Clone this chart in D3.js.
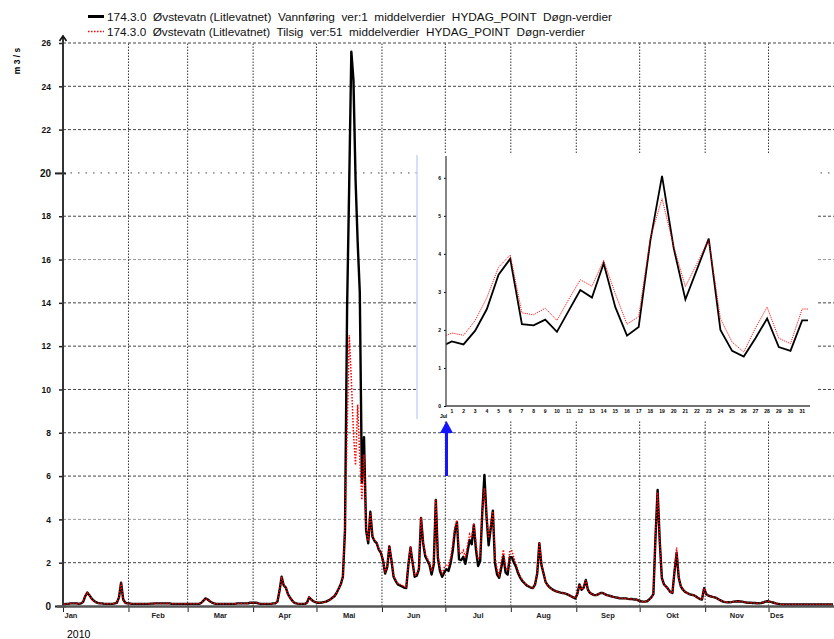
<!DOCTYPE html>
<html>
<head>
<meta charset="utf-8">
<script src="https://d3js.org/d3.v7.min.js"></script>
<style>
body { margin: 0; background: #fff; }
svg { display: block; font-family: "Liberation Sans", Arial, sans-serif; }
</style>
</head>
<body>
<svg></svg>
<script>
// daily values 2010, m3/s
const months = ['Jan', 'Feb', 'Mar', 'Apr', 'Mai', 'Jun', 'Jul', 'Aug', 'Sep', 'Okt', 'Nov', 'Des']

const vannforing = [
  // Jan
  0.08,0.1,0.1,0.12,0.12,0.12,0.12,0.1,0.12,0.18,0.45,0.62,0.5,0.35,0.25,0.18,0.14,0.12,0.12,0.1,0.1,0.1,0.1,0.1,0.12,0.15,0.4,1.08,0.3,0.15,0.12,
  // Feb
  0.12,0.1,0.1,0.1,0.1,0.1,0.1,0.1,0.1,0.1,0.11,0.11,0.12,0.12,0.12,0.12,0.12,0.12,0.12,0.12,0.1,0.1,0.1,0.1,0.1,0.1,0.1,0.1,
  // Mar
  0.1,0.1,0.1,0.1,0.1,0.1,0.15,0.25,0.35,0.3,0.22,0.16,0.12,0.1,0.1,0.1,0.1,0.1,0.1,0.1,0.1,0.1,0.1,0.12,0.12,0.12,0.12,0.12,0.12,0.15,0.15,
  // Apr
  0.15,0.15,0.12,0.1,0.1,0.1,0.1,0.1,0.1,0.12,0.12,0.2,0.7,1.35,0.95,0.85,0.55,0.38,0.25,0.15,0.12,0.1,0.1,0.1,0.1,0.15,0.4,0.3,0.22,0.18,
  // Mai
  0.15,0.15,0.16,0.18,0.2,0.25,0.3,0.38,0.45,0.6,0.8,1.0,1.35,3.5,13.8,19.5,25.6,24.3,19.7,16.8,14.5,5.7,7.8,3.5,2.9,4.35,3.2,3.0,2.9,2.6,2.45,
  // Jun
  2.1,1.5,1.8,2.75,2.1,1.35,1.15,1.0,0.95,0.9,0.85,0.83,1.9,2.7,2.0,1.35,1.4,1.7,4.07,2.9,2.3,2.1,1.9,1.45,1.9,4.9,2.2,1.6,1.35,1.55,
  // Jul
  1.7,1.62,1.98,2.55,3.45,3.87,2.15,2.12,2.27,1.95,2.5,3.05,2.85,3.75,2.6,1.85,2.08,4.35,6.05,4.15,2.8,3.6,4.4,2.0,1.45,1.3,1.78,2.3,1.55,1.45,2.25,
  // Aug
  2.25,2.0,1.8,1.5,1.3,1.15,1.05,0.95,0.9,0.85,0.83,1.0,1.5,2.9,1.9,1.5,1.1,0.95,0.85,0.78,0.72,0.68,0.65,0.62,0.6,0.58,0.55,0.5,0.45,0.4,0.35,
  // Sep
  0.55,1.0,0.75,0.85,1.2,0.75,0.6,0.55,0.5,0.5,0.55,0.6,0.6,0.55,0.5,0.48,0.45,0.42,0.4,0.38,0.36,0.35,0.35,0.35,0.33,0.32,0.32,0.3,0.3,0.25,
  // Okt
  0.22,0.2,0.2,0.22,0.3,0.4,0.55,3.2,5.36,3.0,1.3,1.0,0.9,0.78,0.65,0.6,1.6,2.45,1.3,0.9,0.75,0.65,0.6,0.55,0.52,0.5,0.45,0.38,0.32,0.3,0.82,
  // Nov
  0.55,0.48,0.45,0.42,0.4,0.36,0.3,0.25,0.2,0.18,0.17,0.17,0.18,0.2,0.21,0.22,0.21,0.2,0.18,0.16,0.15,0.15,0.14,0.14,0.13,0.13,0.14,0.16,0.2,0.22,
  // Des
  0.2,0.18,0.15,0.12,0.1,0.08,0.07,0.07,0.07,0.07,0.07,0.07,0.07,0.07,0.07,0.07,0.07,0.07,0.07,0.07,0.07,0.07,0.07,0.07,0.07,0.07,0.07,0.07,0.07,0.07,0.07
]

const tilsig = [
  // Jan
  0.08,0.1,0.1,0.12,0.12,0.12,0.12,0.1,0.12,0.18,0.45,0.62,0.5,0.35,0.25,0.18,0.14,0.12,0.12,0.1,0.1,0.1,0.1,0.1,0.12,0.15,0.4,1.08,0.3,0.15,0.12,
  // Feb
  0.12,0.1,0.1,0.1,0.1,0.1,0.1,0.1,0.1,0.1,0.11,0.11,0.12,0.12,0.12,0.12,0.12,0.12,0.12,0.12,0.1,0.1,0.1,0.1,0.1,0.1,0.1,0.1,
  // Mar
  0.1,0.1,0.1,0.1,0.1,0.1,0.15,0.25,0.35,0.3,0.22,0.16,0.12,0.1,0.1,0.1,0.1,0.1,0.1,0.1,0.1,0.1,0.1,0.12,0.12,0.12,0.12,0.12,0.12,0.15,0.15,
  // Apr
  0.15,0.15,0.12,0.1,0.1,0.1,0.1,0.1,0.1,0.12,0.12,0.2,0.7,1.35,0.95,0.85,0.55,0.38,0.25,0.15,0.12,0.1,0.1,0.1,0.1,0.15,0.4,0.3,0.22,0.18,
  // Mai
  0.15,0.15,0.16,0.18,0.2,0.25,0.3,0.38,0.45,0.6,0.8,1.0,1.35,3.8,8.0,12.5,10.5,8.0,6.5,9.3,6.8,4.9,7.0,3.6,3.0,4.3,3.25,3.05,2.95,2.65,2.5,
  // Jun
  2.15,1.55,1.85,2.8,2.15,1.4,1.2,1.05,1.0,0.95,0.9,0.88,1.95,2.75,2.05,1.4,1.45,1.8,4.1,3.0,2.4,2.2,2.0,1.6,2.0,4.9,2.35,1.75,1.5,1.78,
  // Jul
  1.92,1.86,2.25,2.85,3.65,3.97,2.45,2.4,2.57,2.25,2.8,3.32,3.15,3.83,2.95,2.15,2.35,4.42,5.45,4.2,3.14,3.75,4.37,2.3,1.68,1.42,2.05,2.6,1.78,1.64,2.55,
  // Aug
  2.55,2.2,1.95,1.6,1.35,1.2,1.08,0.97,0.92,0.86,0.84,1.02,1.55,2.95,1.95,1.5,1.1,0.95,0.85,0.78,0.72,0.68,0.65,0.62,0.6,0.58,0.55,0.5,0.45,0.4,0.35,
  // Sep
  0.55,1.0,0.75,0.85,1.2,0.75,0.6,0.55,0.5,0.5,0.55,0.6,0.6,0.55,0.5,0.48,0.45,0.42,0.4,0.38,0.36,0.35,0.35,0.35,0.33,0.32,0.32,0.3,0.3,0.25,
  // Okt
  0.22,0.2,0.2,0.22,0.3,0.4,0.55,3.2,5.25,3.0,1.3,1.0,0.9,0.78,0.65,0.6,1.65,2.7,1.3,0.9,0.75,0.65,0.6,0.55,0.52,0.5,0.45,0.38,0.32,0.3,0.82,
  // Nov
  0.55,0.48,0.45,0.42,0.4,0.36,0.3,0.25,0.2,0.18,0.17,0.17,0.18,0.2,0.21,0.22,0.21,0.2,0.18,0.16,0.15,0.15,0.14,0.14,0.13,0.13,0.14,0.16,0.2,0.22,
  // Des
  0.2,0.18,0.15,0.12,0.1,0.08,0.07,0.07,0.07,0.07,0.07,0.07,0.07,0.07,0.07,0.07,0.07,0.07,0.07,0.07,0.07,0.07,0.07,0.07,0.07,0.07,0.07,0.07,0.07,0.07,0.07
]

const yTicks = [0, 2, 4, 6, 8, 10, 12, 14, 16, 18, 20, 22, 24, 26]
const majorTicks = [0, 20]
const insetTicks = [0, 1, 2, 3, 4, 5, 6]
const insetDays = d3.range(1, 32)
const legendTexts = [
  '174.3.0  Øvstevatn (Litlevatnet)  Vannføring  ver:1  middelverdier  HYDAG_POINT  Døgn-verdier',
  '174.3.0  Øvstevatn (Litlevatnet)  Tilsig  ver:51  middelverdier  HYDAG_POINT  Døgn-verdier'
]

const svg = d3.select('svg').attr('width', 834).attr('height', 639)

const t0 = new Date(Date.UTC(2010, 0, 1))
const t1 = new Date(Date.UTC(2011, 0, 1))
const dayDate = i => new Date(t0.getTime() + (i + 0.5) * 864e5)

const x = d3.scaleUtc().domain([t0, t1]).range([63, 834])
const y = d3.scaleLinear().domain([0, 26]).range([606, 43])
const monthStarts = d3.utcMonths(t0, t1)

// grid
const grid = svg.append('g')
grid.selectAll('line.h').data(yTicks.filter(d => d > 0)).enter().append('line')
  .attr('x1', 63).attr('x2', 834)
  .attr('y1', d => y(d)).attr('y2', d => y(d))
  .attr('stroke', d => (d === 4 || d === 16) ? '#999' : '#444')
  .attr('stroke-width', 1)
  .attr('stroke-dasharray', d => d === 20 ? '1.5,6' : '3,2')
grid.selectAll('line.v').data(monthStarts.slice(1)).enter().append('line')
  .attr('x1', d => x(d)).attr('x2', d => x(d))
  .attr('y1', y(0)).attr('y2', y(26))
  .attr('stroke', '#333')
  .attr('stroke-dasharray', '1.5,1.5')

// series
const line = d3.line().x((d, i) => x(dayDate(i))).y(d => y(d))
svg.append('path').datum(vannforing).attr('d', line)
  .attr('fill', 'none').attr('stroke', '#000').attr('stroke-width', 2.4)
  .attr('stroke-linejoin', 'round')
svg.append('path').datum(tilsig).attr('d', line)
  .attr('fill', 'none').attr('stroke', '#ff0000').attr('stroke-width', 1.5)
  .attr('stroke-dasharray', '1.5,1.5')

// y axis
const yAxis = d3.axisLeft(y).tickValues(yTicks).tickSize(4).tickPadding(8)
const gy = svg.append('g').attr('transform', 'translate(63,0)').call(yAxis)
gy.select('.domain').remove()
gy.selectAll('.tick line')
  .attr('stroke', '#222')
  .attr('stroke-width', d => majorTicks.includes(d) ? 2 : 1.5)
  .attr('x1', d => majorTicks.includes(d) ? 3 : 0)
  .attr('x2', d => majorTicks.includes(d) ? -8 : -4)
gy.selectAll('.tick text')
  .attr('x', -12)
  .style('font-size', d => majorTicks.includes(d) ? '10px' : '8.5px')
  .style('font-weight', 'bold')
  .attr('fill', '#111')
svg.append('line').attr('x1', 63).attr('x2', 63).attr('y1', y(0)).attr('y2', 37)
  .attr('stroke', '#333').attr('stroke-width', 2)
svg.append('path').attr('d', 'M59.5,41 L63,36 L66.5,41')
  .attr('fill', 'none').attr('stroke', '#111').attr('stroke-width', 1.6)

svg.append('text')
  .attr('transform', 'translate(20,61) rotate(-90)')
  .attr('text-anchor', 'middle')
  .style('font-size', '8.5px').style('font-weight', 'bold')
  .text('m 3 / s')

// x axis
const xAxis = d3.axisBottom(x).tickValues(monthStarts).tickSize(6).tickFormat('')
const gx = svg.append('g').attr('transform', `translate(0,${y(0)})`).call(xAxis)
gx.select('.domain').remove()
gx.selectAll('.tick line').attr('stroke', '#222')
svg.append('line').attr('x1', 57).attr('x2', 834).attr('y1', y(0) + 0.5).attr('y2', y(0) + 0.5)
  .attr('stroke', '#555').attr('stroke-width', 2.6)

svg.selectAll('text.month').data(monthStarts).enter().append('text')
  .attr('class', 'month')
  .attr('x', (d, i) => (i === 0 || i === 11) ? x(d) + 1.5 : x(new Date((d.getTime() + d3.utcMonth.offset(d, 1).getTime()) / 2)))
  .attr('y', 618)
  .attr('text-anchor', (d, i) => (i === 0 || i === 11) ? 'start' : 'middle')
  .style('font-size', '7.5px').style('font-weight', 'bold')
  .attr('fill', '#222')
  .text((d, i) => months[i])

svg.append('text').attr('x', 67).attr('y', 638)
  .style('font-size', '10.5px').text('2010')

// legend
const legend = svg.append('g')
legend.append('line').attr('x1', 88).attr('x2', 104).attr('y1', 16.5).attr('y2', 16.5)
  .attr('stroke', '#000').attr('stroke-width', 3)
legend.append('line').attr('x1', 88).attr('x2', 104).attr('y1', 31.5).attr('y2', 31.5)
  .attr('stroke', '#ff0000').attr('stroke-width', 1.3).attr('stroke-dasharray', '1.5,1.5')
legend.selectAll('text').data(legendTexts).enter().append('text')
  .attr('x', 107).attr('y', (d, i) => 20.5 + i * 15)
  .attr('textLength', (d, i) => i === 0 ? 505 : 478)
  .attr('lengthAdjust', 'spacingAndGlyphs')
  .style('font-size', '11px')
  .style('white-space', 'pre')
  .attr('fill', '#111')
  .text(d => d)

// inset: July detail
const inset = svg.append('g')
inset.append('rect').attr('x', 417).attr('y', 154).attr('width', 399).attr('height', 266)
  .attr('fill', '#fff')
inset.append('line').attr('x1', 417).attr('x2', 417).attr('y1', 155).attr('y2', 419)
  .attr('stroke', '#c4d6f8').attr('stroke-width', 1.5)

const julStart = 181
const xIn = d3.scaleLinear().domain([0, 31]).range([446, 808])
const yIn = d3.scaleLinear().domain([0, 6.6]).range([406, 155])

svg.append('clipPath').attr('id', 'inclip').append('rect')
  .attr('x', 446).attr('y', 150).attr('width', 362).attr('height', 260)

const inLine = d3.line().x(d => xIn(d.i - julStart + 0.5)).y(d => yIn(d.v))
const inData = s => d3.range(julStart - 1, julStart + 32).map(i => ({i, v: s[i]}))
inset.append('path').datum(inData(vannforing)).attr('d', inLine)
  .attr('clip-path', 'url(#inclip)')
  .attr('fill', 'none').attr('stroke', '#000').attr('stroke-width', 1.8)
inset.append('path').datum(inData(tilsig)).attr('d', inLine)
  .attr('clip-path', 'url(#inclip)')
  .attr('fill', 'none').attr('stroke', '#ff0000').attr('stroke-width', 0.9)
  .attr('stroke-dasharray', '1.2,1')

const gyIn = inset.append('g').attr('transform', 'translate(446,0)')
  .call(d3.axisLeft(yIn).tickValues(insetTicks).tickFormat(d3.format('d')).tickSize(2).tickPadding(3))
gyIn.select('.domain').remove()
gyIn.selectAll('.tick text').style('font-size', '5px').style('font-weight', 'bold')
inset.append('line').attr('x1', 446).attr('x2', 446).attr('y1', 406).attr('y2', 156)
  .attr('stroke', '#444').attr('stroke-width', 1.3)
inset.append('line').attr('x1', 446).attr('x2', 810).attr('y1', 406).attr('y2', 406)
  .attr('stroke', '#444').attr('stroke-width', 1.3)
inset.selectAll('text.day').data(insetDays).enter().append('text')
  .attr('class', 'day')
  .attr('x', d => xIn(d - 0.5)).attr('y', 412.5)
  .attr('text-anchor', 'middle')
  .style('font-size', '5px').style('font-weight', 'bold')
  .text(d => d)
inset.append('text').attr('x', 440).attr('y', 418)
  .style('font-size', '5px').style('font-weight', 'bold').text('Jul')

// blue arrow pointing at July
svg.append('line').attr('x1', 446.5).attr('x2', 446.5).attr('y1', 476).attr('y2', 430)
  .attr('stroke', '#1414ff').attr('stroke-width', 3)
svg.append('path').attr('d', 'M446.5,421 L440,433 L453,433 Z').attr('fill', '#1414ff')
</script>
</body>
</html>
